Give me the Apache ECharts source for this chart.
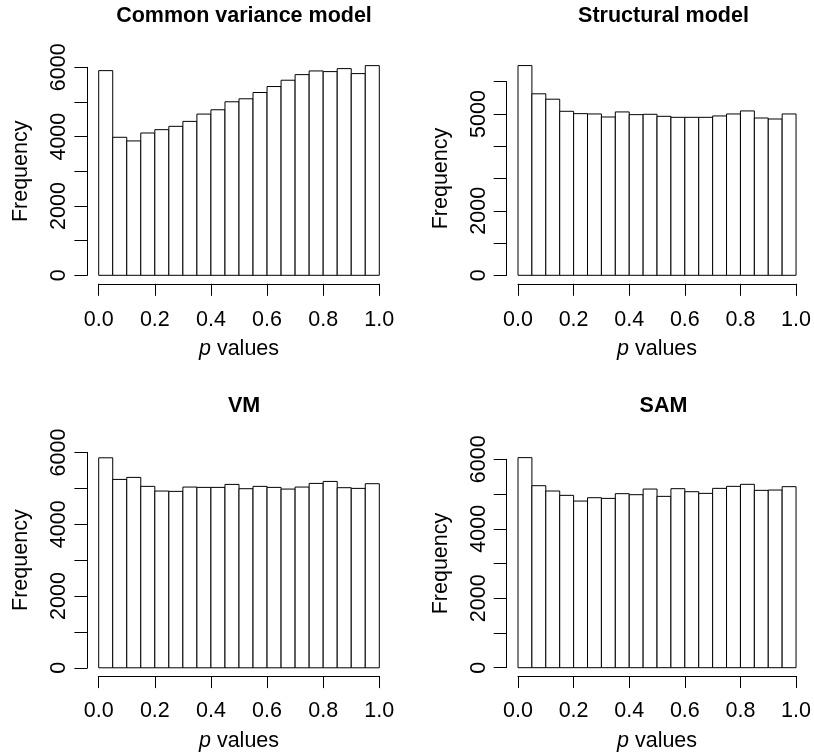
<!DOCTYPE html>
<html>
<head>
<meta charset="utf-8">
<script src="https://cdn.jsdelivr.net/npm/echarts@6/dist/echarts.min.js"></script>
<style>html,body{margin:0;padding:0;background:#fff}#c{width:814px;height:755px}</style>
</head>
<body>
<div id="c"></div>
<script>
// ---- data ----
const binStarts = [0.00,0.05,0.10,0.15,0.20,0.25,0.30,0.35,0.40,0.45,0.50,0.55,0.60,0.65,0.70,0.75,0.80,0.85,0.90,0.95];
const binEnds   = [0.05,0.10,0.15,0.20,0.25,0.30,0.35,0.40,0.45,0.50,0.55,0.60,0.65,0.70,0.75,0.80,0.85,0.90,0.95,1.00];
const titles = ['Common variance model','Structural model','VM','SAM'];
const commonVariance = [5904,3981,3876,4105,4201,4297,4440,4651,4775,5005,5091,5273,5445,5627,5789,5895,5876,5962,5818,6048];
const structural     = [6500,5625,5458,5083,5010,5000,4906,5063,4979,4990,4927,4896,4896,4896,4938,5000,5094,4875,4844,5000];
const vm             = [5852,5250,5306,5056,4926,4917,5037,5028,5028,5111,4991,5056,5028,4981,5037,5139,5194,5019,5000,5130];
const sam            = [6048,5240,5087,4962,4798,4894,4875,5010,4981,5144,4933,5154,5067,5019,5163,5221,5279,5106,5115,5212];
const xTickLabels = ['0.0','0.2','0.4','0.6','0.8','1.0'];
const yLabelsA = ['0','2000','4000','6000'];
const yLabelsB = ['0','2000','5000'];
const xAxisTitle = 'p values';
const yAxisTitle = 'Frequency';

const seriesValues = [commonVariance, structural, vm, sam];
const yLabelSets = [yLabelsA, yLabelsB, yLabelsA, yLabelsA];

// ---- layout (pixels) ----
const FONT = 'Liberation Sans, Arial, Helvetica, sans-serif';
const FS = 21.5;
const grids = [
  {left: 98.7, right: 814-379.3, top: 67.3, bottom: 755-275.3},
  {left: 518,  right: 814-799,   top: 81.7, bottom: 755-275.3},
  {left: 98.7, right: 814-379.3, top: 452.5, bottom: 755-667.8},
  {left: 518,  right: 814-799,   top: 459.3, bottom: 755-667.7}
];
const titleTops = [0, 0, 390, 390];
const xOffsets = [8.5, 8.5, 8.3, 8.3];
const xMargins = [25.5, 25.5, 24, 24];
const xNameGaps = [54.5, 54.5, 54, 54];

const chart = echarts.init(document.getElementById('c'), null, {renderer:'canvas'});

const option = {
  backgroundColor: '#fff',
  animation: false,
  textStyle: {fontFamily: FONT},
  title: grids.map((g, i) => ({
    text: titles[i],
    left: (g.left + (814 - g.right)) / 2,
    top: titleTops[i],
    textAlign: 'center',
    textStyle: {fontFamily: FONT, fontWeight: 'bold', fontSize: FS, color: '#000'}
  })),
  grid: grids.map(g => ({left: g.left, right: g.right, top: g.top, bottom: g.bottom, containLabel: false})),
  xAxis: grids.map((g, i) => ({
    type: 'value', gridIndex: i, min: 0, max: 1, interval: 0.2,
    position: 'bottom', offset: xOffsets[i],
    axisLine: {show: true, onZero: false, lineStyle: {color: '#000', width: 1}},
    axisTick: {show: true, length: 12, lineStyle: {color: '#000', width: 1}},
    splitLine: {show: false},
    axisLabel: {
      color: '#000', fontSize: FS, fontFamily: FONT, margin: xMargins[i],
      formatter: v => { const k = Math.round(v / 0.2); return xTickLabels[k] !== undefined ? xTickLabels[k] : ''; }
    },
    name: '{i|p} values',
    nameLocation: 'middle', nameGap: xNameGaps[i],
    nameTextStyle: {
      color: '#000', fontSize: FS, fontFamily: FONT,
      rich: {i: {fontStyle: 'italic', fontSize: FS, fontFamily: FONT, color: '#000'}}
    }
  })),
  yAxis: grids.map((g, i) => ({
    type: 'value', gridIndex: i, min: 0, max: 6000, interval: 1000,
    position: 'left', offset: 11.3,
    axisLine: {show: true, onZero: false, lineStyle: {color: '#000', width: 1}},
    axisTick: {show: true, length: 13, lineStyle: {color: '#000', width: 1}},
    splitLine: {show: false},
    axisLabel: {
      color: '#000', fontSize: FS, fontFamily: FONT, rotate: 90, margin: 17,
      showMinLabel: true, showMaxLabel: true,
      formatter: v => { const s = String(Math.round(v)); return yLabelSets[i].indexOf(s) >= 0 ? s : ''; }
    },
    name: yAxisTitle,
    nameLocation: 'middle', nameGap: 55, nameRotate: 90,
    nameTextStyle: {color: '#000', fontSize: FS, fontFamily: FONT}
  })),
  series: seriesValues.map((vals, i) => ({
    type: 'custom', xAxisIndex: i, yAxisIndex: i, clip: false,
    data: vals.map((v, k) => [binStarts[k], binEnds[k], v]),
    encode: {x: [0, 1], y: 2},
    renderItem: function (params, api) {
      const p0 = api.coord([api.value(0), 0]);
      const p1 = api.coord([api.value(1), api.value(2)]);
      return {
        type: 'rect',
        shape: {x: p0[0], y: p1[1], width: p1[0] - p0[0], height: p0[1] - p1[1]},
        style: {fill: '#fff', stroke: '#000', lineWidth: 1}
      };
    }
  }))
};
chart.setOption(option);
</script>
</body>
</html>
